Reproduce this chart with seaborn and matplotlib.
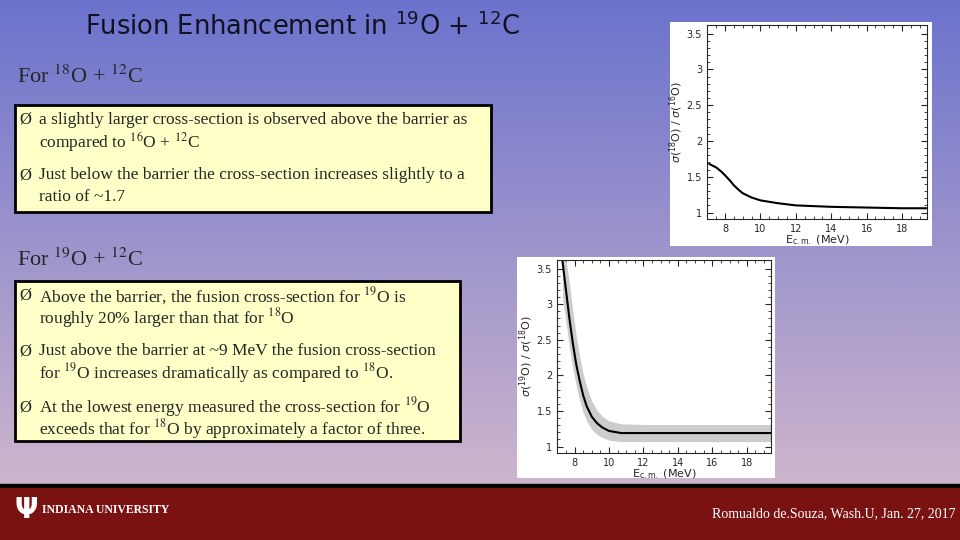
import numpy as np
import matplotlib
matplotlib.use("Agg")
import matplotlib.pyplot as plt
import pandas as pd
import seaborn as sns
from matplotlib.patches import Rectangle

sns.set_style("ticks")
plt.rcParams['font.family'] = ['DejaVu Sans']

# curve 1: sigma(18O)/sigma(16O)
e1 = [7.1, 7.5, 7.8, 8.0, 8.3, 8.5, 8.8, 9.0, 9.5, 10.0, 11.0, 12.0, 13.0, 14.0, 16.0, 18.0, 19.4]
r1 = [1.68, 1.63, 1.57, 1.52, 1.44, 1.38, 1.31, 1.27, 1.21, 1.17, 1.13, 1.10, 1.09, 1.08, 1.07, 1.06, 1.06]

# curve 2: sigma(19O)/sigma(18O) with uncertainty band
e2 = [7.3, 7.5, 7.7, 7.9, 8.1, 8.3, 8.5, 8.7, 9.0, 9.3, 9.6, 10.0, 10.7, 12.0, 14.0, 16.0, 18.0, 19.4]
r2 = [3.6, 3.2, 2.8, 2.45, 2.15, 1.92, 1.72, 1.57, 1.42, 1.33, 1.27, 1.22, 1.19, 1.19, 1.19, 1.19, 1.19, 1.19]
lo2 = [3.1, 2.75, 2.4, 2.1, 1.85, 1.64, 1.48, 1.36, 1.24, 1.17, 1.13, 1.09, 1.07, 1.07, 1.07, 1.07, 1.07, 1.07]
hi2 = [3.62, 3.62, 3.3, 2.9, 2.55, 2.26, 2.02, 1.84, 1.64, 1.51, 1.43, 1.36, 1.32, 1.31, 1.31, 1.31, 1.31, 1.31]

W, H = 960, 540
fig = plt.figure(figsize=(9.6, 5.4), dpi=100)

# background gradient
bg = fig.add_axes([0, 0, 1, 1])
top = np.array([0.42, 0.45, 0.80])
bot = np.array([0.85, 0.74, 0.80])
t = np.linspace(0, 1, 256)[:, None]
grad = (top[None, :] * (1 - t) + bot[None, :] * t)[:, None, :]
bg.imshow(grad, aspect='auto', extent=[0, W, H, 0])
bg.set_xlim(0, W)
bg.set_ylim(H, 0)
bg.axis('off')

# footer
bg.add_patch(Rectangle((0, 484), W, 4, color='black'))
bg.add_patch(Rectangle((0, 488), W, 52, color='#7b1212'))
bg.text(14, 510, 'Ψ', color='white', fontsize=20, fontweight='bold', va='center')
bg.text(42, 510, 'INDIANA UNIVERSITY', color='white', fontsize=8.5, fontweight='bold',
        va='center', family='Liberation Serif')
bg.text(956, 514, 'Romualdo de.Souza, Wash.U, Jan. 27, 2017', color='white', fontsize=10,
        ha='right', va='center', family='Liberation Serif')

# title
bg.text(85, 27, r'Fusion Enhancement in $^{19}$O + $^{12}$C', fontsize=18.5, va='center',
        color='#111122')

serif = dict(family='Liberation Serif', math_fontfamily='stix', va='center')
bg.text(17, 77, r'For $^{18}$O + $^{12}$C', fontsize=16, **serif)
bg.text(17, 260, r'For $^{19}$O + $^{12}$C', fontsize=16, **serif)

bg.add_patch(Rectangle((15, 105), 476, 107, facecolor='#ffffc8', edgecolor='black', lw=2))
bg.add_patch(Rectangle((15, 281), 445, 160, facecolor='#ffffc8', edgecolor='black', lw=2))

bullets = [
    (120, r'a slightly larger cross-section is observed above the barrier as', r'compared to $^{16}$O + $^{12}$C'),
    (175, r'Just below the barrier the cross-section increases slightly to a', r'ratio of ~1.7'),
    (296, r'Above the barrier, the fusion cross-section for $^{19}$O is', r'roughly 20% larger than that for $^{18}$O'),
    (351, r'Just above the barrier at ~9 MeV the fusion cross-section', r'for $^{19}$O increases dramatically as compared to $^{18}$O.'),
    (407, r'At the lowest energy measured the cross-section for $^{19}$O', r'exceeds that for $^{18}$O by approximately a factor of three.'),
]
for y, l1, l2 in bullets:
    bg.text(19, y, 'Ø', fontsize=12, **serif)
    bg.text(39, y, l1, fontsize=12.5, **serif)
    bg.text(39, y + 22, l2, fontsize=12.5, **serif)

# white boxes behind the plots
bg.add_patch(Rectangle((670, 22), 262, 224, facecolor='white', edgecolor='none'))
bg.add_patch(Rectangle((517, 257), 258, 221, facecolor='white', edgecolor='none'))


def style(ax, ylabel):
    ax.set_xlim(6.98, 19.41)
    ax.set_ylim(0.91, 3.62)
    ax.set_xticks([8, 10, 12, 14, 16, 18])
    ax.set_yticks([1, 1.5, 2, 2.5, 3, 3.5])
    ax.set_yticklabels(['1', '1.5', '2', '2.5', '3', '3.5'])
    ax.set_xticks(np.arange(7.5, 19.5, 0.5), minor=True)
    ax.set_yticks(np.arange(1, 3.6, 0.1), minor=True)
    ax.tick_params(which='both', direction='in', top=True, right=True, labelsize=7, length=4)
    ax.tick_params(which='minor', length=2)
    ax.set_xlabel(r'E$_{\rm c.m.}$ (MeV)', fontsize=8, labelpad=0)
    ax.set_ylabel(ylabel, fontsize=8, labelpad=1)
    for s in ax.spines.values():
        s.set_linewidth(0.8)


ax1 = fig.add_axes([707 / W, 1 - 219 / H, 220 / W, 194 / H])
sns.lineplot(x=e1, y=r1, ax=ax1, color='black', lw=1.5)
style(ax1, r'$\sigma$($^{18}$O) / $\sigma$($^{16}$O)')

ax2 = fig.add_axes([557 / W, 1 - 453 / H, 214 / W, 193 / H])
ax2.fill_between(e2, lo2, hi2, color='#cccccc', lw=0)
sns.lineplot(x=e2, y=r2, ax=ax2, color='black', lw=1.5)
style(ax2, r'$\sigma$($^{19}$O) / $\sigma$($^{18}$O)')

fig.savefig('out.png', dpi=100)
